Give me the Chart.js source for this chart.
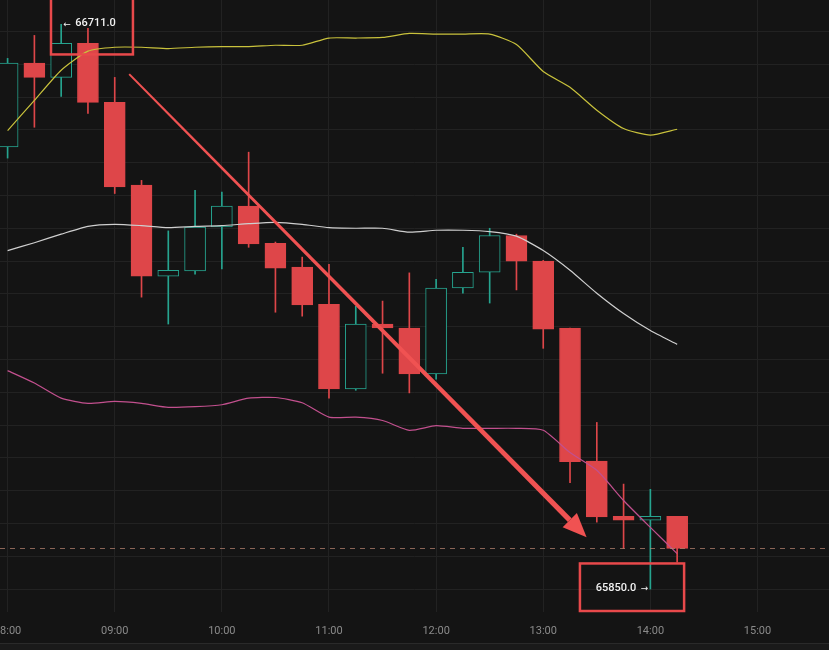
<!DOCTYPE html>
<html>
<head>
<meta charset="utf-8">
<script src="https://cdn.jsdelivr.net/npm/chart.js@4.4.1/dist/chart.umd.min.js"></script>
<style>
    html, body { margin: 0; padding: 0; background: #141414; }
    #wrap { width: 829px; height: 650px; position: relative; }
</style>
</head>
<body>
<div id="wrap"><canvas id="velas"></canvas></div>
<script>
// Eje de tiempo: una vela cada 15 minutos, etiqueta cada hora
const hourLabels = ['08:00', '09:00', '10:00', '11:00', '12:00', '13:00', '14:00', '15:00'];
const hourTicks = [0, 4, 8, 12, 16, 20, 24, 28];

// Velas (OHLC)
const opens  = [66524, 66652, 66630, 66682, 66592, 66466, 66327, 66335, 66402, 66434, 66377, 66341, 66284, 66155, 66254, 66248, 66178, 66309, 66333, 66389, 66350, 66248, 66045, 65961, 65955, 65961];
const highs  = [66659, 66694, 66711, 66705, 66630, 66473, 66396, 66458, 66455, 66516, 66379, 66356, 66345, 66281, 66289, 66332, 66322, 66371, 66400, 66391, 66351, 66248, 66104, 66010, 66002, 65961];
const lows   = [66507, 66554, 66601, 66575, 66453, 66295, 66254, 66330, 66338, 66371, 66272, 66266, 66141, 66153, 66179, 66149, 66170, 66301, 66286, 66306, 66217, 66012, 65952, 65912, 65850, 65891];
const closes = [66652, 66630, 66682, 66592, 66463, 66327, 66336, 66402, 66434, 66376, 66339, 66283, 66155, 66254, 66248, 66178, 66309, 66333, 66389, 66350, 66246, 66044, 65960, 65955, 65961, 65912];

// Bandas de Bollinger
const upperBand  = [66549, 66595, 66641, 66670, 66676, 66676, 66674, 66676, 66677, 66677, 66679, 66679, 66690, 66690, 66691, 66697, 66696, 66696, 66696, 66680, 66639, 66615, 66580, 66552, 66542, 66551];
const middleBand = [66366, 66378, 66391, 66403, 66406, 66404, 66401, 66403, 66404, 66407, 66409, 66406, 66401, 66400, 66400, 66394, 66397, 66397, 66395, 66388, 66366, 66336, 66301, 66270, 66244, 66223];
const lowerBand  = [66183, 66164, 66141, 66133, 66136, 66133, 66127, 66128, 66131, 66141, 66142, 66134, 66112, 66112, 66107, 66092, 66099, 66095, 66095, 66095, 66092, 66058, 66031, 65985, 65944, 65904];

const UP = '#26a48f';
const DOWN = '#de4649';
const BG = '#141414';
const GRID = '#222222';

const isUp = closes.map((c, i) => c >= opens[i]);
const colorOf = i => isUp[i] ? UP : DOWN;

const toPoints = arr => arr.map((v, i) => ({ x: i, y: v }));

// Máximo y mínimo del periodo
const hiIdx = highs.indexOf(Math.max(...highs));
const loIdx = lows.indexOf(Math.min(...lows));

// Fondo, línea del último precio, flecha y recuadros
const overlayPlugin = {
    id: 'overlay',
    beforeDraw(chart) {
        const ctx = chart.ctx;
        ctx.save();
        ctx.fillStyle = BG;
        ctx.fillRect(0, 0, chart.width, chart.height);
        ctx.fillStyle = '#1a1a1a';
        ctx.fillRect(0, chart.height - 7, chart.width, 7);
        ctx.fillStyle = '#2a2a2a';
        ctx.fillRect(0, chart.height - 7, chart.width, 1);
        ctx.restore();
    },
    afterDatasetsDraw(chart) {
        const ctx = chart.ctx;
        const xs = chart.scales.x;
        const ys = chart.scales.y;
        const area = chart.chartArea;
        const px = v => xs.getPixelForValue(v);
        const py = v => ys.getPixelForValue(v);
        ctx.save();

        // último precio
        const yLast = py(closes[closes.length - 1]);
        ctx.strokeStyle = 'rgba(190, 135, 115, 0.7)';
        ctx.lineWidth = 1;
        ctx.setLineDash([5, 5]);
        ctx.beginPath();
        ctx.moveTo(area.left, Math.round(yLast) + 0.5);
        ctx.lineTo(area.right, Math.round(yLast) + 0.5);
        ctx.stroke();
        ctx.setLineDash([]);

        // flecha de tendencia
        const x1 = px(4.54), y1 = py(66635);
        const x2 = px(21.62), y2 = py(65929);
        const ang = Math.atan2(y2 - y1, x2 - x1);
        const len = Math.hypot(x2 - x1, y2 - y1);
        const head = 24, headW = 10;
        const nx = -Math.sin(ang), ny = Math.cos(ang);
        const bx = x1 + Math.cos(ang) * (len - head);
        const by = y1 + Math.sin(ang) * (len - head);
        ctx.fillStyle = '#f05252';
        ctx.beginPath();
        ctx.moveTo(x1 + nx * 1, y1 + ny * 1);
        ctx.lineTo(bx + nx * 2.6, by + ny * 2.6);
        ctx.lineTo(bx - nx * 2.6, by - ny * 2.6);
        ctx.lineTo(x1 - nx * 1, y1 - ny * 1);
        ctx.closePath();
        ctx.fill();
        ctx.beginPath();
        ctx.moveTo(x2, y2);
        ctx.lineTo(bx + nx * headW, by + ny * headW);
        ctx.lineTo(bx - nx * headW, by - ny * headW);
        ctx.closePath();
        ctx.fill();

        // recuadros
        ctx.strokeStyle = '#e8494b';
        ctx.lineWidth = 2.5;
        ctx.strokeRect(px(1.62), area.top - 2, px(4.68) - px(1.62), py(66665) - area.top + 2);
        ctx.strokeRect(px(21.37), py(65889), px(25.26) - px(21.37), area.bottom - 1 - py(65889));

        // etiquetas de máximo y mínimo
        ctx.fillStyle = '#f2f2f2';
        ctx.textBaseline = 'middle';
        const yHi = py(highs[hiIdx]) - 1;
        ctx.textAlign = 'left';
        ctx.font = '9px "DejaVu Sans", sans-serif';
        ctx.fillText('←', px(hiIdx) + 2, yHi + 1);
        ctx.font = '500 11px Roboto, sans-serif';
        ctx.fillText(highs[hiIdx].toFixed(1), px(hiIdx) + 14, yHi);

        const yLo = py(lows[loIdx]) - 1;
        ctx.textAlign = 'right';
        ctx.font = '9px "DejaVu Sans", sans-serif';
        ctx.fillText('→', px(loIdx) - 2, yLo + 1);
        ctx.font = '500 11px Roboto, sans-serif';
        ctx.fillText(lows[loIdx].toFixed(1), px(loIdx) - 14, yLo);
        ctx.restore();
    }
};

const lineStyle = color => ({
    type: 'line',
    borderColor: color,
    borderWidth: 1.2,
    pointRadius: 0,
    tension: 0.2,
    order: 0
});

const config = {
    type: 'bar',
    data: {
        datasets: [
            Object.assign({ label: 'Superior', data: toPoints(upperBand) }, lineStyle('#c9c23c')),
            Object.assign({ label: 'Media', data: toPoints(middleBand) }, lineStyle('#cfcfcf')),
            Object.assign({ label: 'Inferior', data: toPoints(lowerBand) }, lineStyle('#c2508e')),
            {
                label: 'Cuerpo',
                data: opens.map((o, i) => ({ x: i, y: [o, closes[i]] })),
                backgroundColor: opens.map((o, i) => isUp[i] ? BG : DOWN),
                borderColor: opens.map((o, i) => colorOf(i)),
                borderWidth: 1,
                borderSkipped: false,
                barThickness: 21,
                grouped: false,
                order: 1
            },
            {
                label: 'Mecha',
                data: lows.map((l, i) => ({ x: i, y: [l, highs[i]] })),
                backgroundColor: lows.map((l, i) => colorOf(i)),
                borderWidth: 0,
                barThickness: 1,
                grouped: false,
                order: 2
            }
        ]
    },
    options: {
        responsive: true,
        maintainAspectRatio: false,
        animation: false,
        layout: { padding: 0, autoPadding: false },
        plugins: {
            legend: { display: false },
            tooltip: { enabled: false }
        },
        scales: {
            x: {
                type: 'linear',
                offset: false,
                min: -0.284,
                max: 30.67,
                afterBuildTicks: axis => { axis.ticks = hourTicks.map(v => ({ value: v })); },
                afterFit: axis => {
                    axis.height = 38;
                    axis.paddingLeft = 0;
                    axis.paddingRight = 0;
                },
                ticks: {
                    color: '#8a8a8a',
                    font: { family: 'Roboto', size: 11 },
                    padding: 13,
                    maxRotation: 0,
                    autoSkip: false,
                    callback: v => hourLabels[hourTicks.indexOf(v)]
                },
                grid: { color: GRID, drawTicks: false, offset: false },
                border: { display: false }
            },
            y: {
                type: 'linear',
                min: 65815,
                max: 66748,
                afterFit: axis => { axis.width = 0; },
                ticks: { display: false, stepSize: 50, includeBounds: false },
                grid: { color: GRID, drawTicks: false },
                border: { display: false }
            }
        }
    },
    plugins: [overlayPlugin]
};

const chart = new Chart(document.getElementById('velas'), config);
</script>
</body>
</html>
